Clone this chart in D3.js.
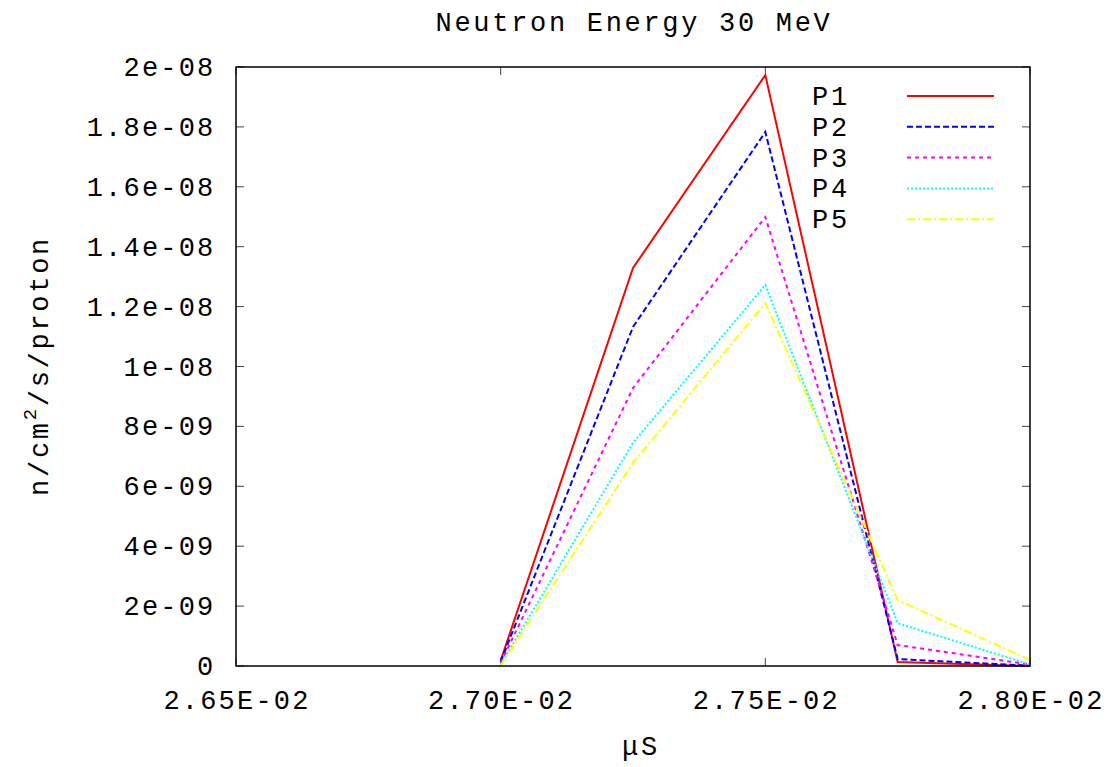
<!DOCTYPE html>
<html><head><meta charset="utf-8">
<script src="https://cdn.jsdelivr.net/npm/d3@7"></script>
<style>body{margin:0;background:#fff}svg{display:block}text{font-family:"Liberation Mono","DejaVu Sans Mono",monospace;fill:#000}</style>
</head><body><svg id="c" width="1109" height="767"></svg>
<script>
const xValues = [0.0270, 0.02725, 0.0275, 0.02775, 0.0280];
const seriesNames = ["P1", "P2", "P3", "P4", "P5"];
const p1 = [1.8e-10, 13.29e-9, 19.73e-9, 1.3e-10, 0];
const p2 = [1.4e-10, 11.32e-9, 17.83e-9, 2.3e-10, 0.1e-10];
const p3 = [1.0e-10, 9.28e-9, 14.99e-9, 7.0e-10, 0.5e-10];
const p4 = [0.5e-10, 7.45e-9, 12.72e-9, 1.43e-9, 0.5e-10];
const p5 = [0.1e-10, 6.78e-9, 12.12e-9, 2.2e-9, 2.0e-10];
const xTicks = [0.0265, 0.0270, 0.0275, 0.0280];
const yTicks = [0, 2e-9, 4e-9, 6e-9, 8e-9, 10e-9, 12e-9, 14e-9, 16e-9, 18e-9, 20e-9];
const yTickLabels = ["0","2e-09","4e-09","6e-09","8e-09","1e-08","1.2e-08","1.4e-08","1.6e-08","1.8e-08","2e-08"];
const xTickLabels = ["2.65E-02","2.70E-02","2.75E-02","2.80E-02"];
const colors = ["#ff0000","#0000ff","#ff00ff","#00ffff","#ffff00"];
const dashes = [null, "6,3", "4,4", "2,2", "8,3,2,3"];
const allSeries = [p1,p2,p3,p4,p5];

const L=236,R=1030,T=67,B=666;
const svg=d3.select("#c");
const x=d3.scaleLinear().domain([0.0265,0.0280]).range([L,R]);
const y=d3.scaleLinear().domain([0,2e-8]).range([B,T]);
const fs="27px", ls="2.2px", lsT="2.7px";

const tk=8;
const g=svg.append("g");
yTicks.forEach((v,i)=>{
  g.append("line").attr("x1",L).attr("x2",L+tk).attr("y1",y(v)).attr("y2",y(v)).attr("stroke","#444").attr("stroke-width",1);
  g.append("line").attr("x1",R).attr("x2",R-tk).attr("y1",y(v)).attr("y2",y(v)).attr("stroke","#444").attr("stroke-width",1);
  g.append("text").attr("x",215.5).attr("y",y(v)+9).attr("text-anchor","end").style("font-size",fs).style("letter-spacing",ls).text(yTickLabels[i]);
});
xTicks.forEach((v,i)=>{
  g.append("line").attr("x1",x(v)).attr("x2",x(v)).attr("y1",B).attr("y2",B-tk).attr("stroke","#444").attr("stroke-width",1);
  g.append("line").attr("x1",x(v)).attr("x2",x(v)).attr("y1",T).attr("y2",T+tk).attr("stroke","#444").attr("stroke-width",1);
  g.append("text").attr("x",x(v)+1).attr("y",709).attr("text-anchor","middle").style("font-size",fs).style("letter-spacing",ls).text(xTickLabels[i]);
});

const line=d3.line().x((d,i)=>x(xValues[i])).y(d=>y(d));
allSeries.forEach((s,k)=>{
  svg.append("path").datum(s).attr("d",line).attr("fill","none").attr("stroke",colors[k])
    .attr("stroke-width",2).attr("stroke-dasharray",dashes[k]).attr("stroke-linejoin","miter");
});

svg.append("rect").attr("x",L).attr("y",T).attr("width",R-L).attr("height",B-T).attr("fill","none").attr("stroke","#000").attr("stroke-width",1.5);

seriesNames.forEach((n,k)=>{
  const yy=96+k*30.8;
  svg.append("text").attr("x",812).attr("y",yy+9).style("font-size",fs).style("letter-spacing",lsT).text(n);
  svg.append("line").attr("x1",907).attr("x2",994).attr("y1",yy).attr("y2",yy).attr("stroke",colors[k]).attr("stroke-width",2).attr("stroke-dasharray",dashes[k]);
});

svg.append("text").attr("x",634).attr("y",31).attr("text-anchor","middle").style("font-size",fs).style("letter-spacing",lsT).text("Neutron Energy 30 MeV");
svg.append("text").attr("x",641).attr("y",755).attr("text-anchor","middle").style("font-size",fs).style("letter-spacing",lsT).text("μS");
const yl=svg.append("text").attr("transform","translate(48,366) rotate(-90)").attr("text-anchor","middle").style("font-size",fs).style("letter-spacing",lsT);
yl.append("tspan").text("n/cm");
yl.append("tspan").attr("dy",-12).style("font-size","19px").text("2");
yl.append("tspan").attr("dy",12).text("/s/proton");
</script></body></html>
